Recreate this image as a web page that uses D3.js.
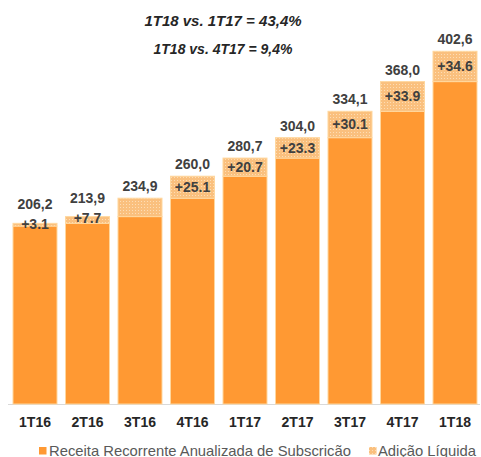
<!DOCTYPE html>
<html>
<head>
<meta charset="utf-8">
<script src="https://cdn.jsdelivr.net/npm/d3@7"></script>
<style>
html,body{margin:0;padding:0;background:#fff;}
svg{display:block;font-family:Arial,"Liberation Sans",sans-serif;}
</style>
</head>
<body>
<svg id="c" width="481" height="457"></svg>
<script>
const categories = ["1T16","2T16","3T16","4T16","1T17","2T17","3T17","4T17","1T18"];
const baseValues = [203.1,206.2,213.9,234.9,260.0,280.7,304.0,334.1,368.0];
const additions = [3.1,7.7,21.0,25.1,20.7,23.3,30.1,33.9,34.6];
const totalLabels = ["206,2","213,9","234,9","260,0","280,7","304,0","334,1","368,0","402,6"];
const additionLabels = ["+3.1","+7.7","","+25.1","+20.7","+23.3","+30.1","+33.9","+34.6"];
const titleLines = ["1T18 vs. 1T17 = 43,4%","1T18 vs. 4T17 = 9,4%"];
const legendLabels = ["Receita Recorrente Anualizada de Subscricão","Adição Líquida"];

const svg = d3.select("#c");
const defs = svg.append("defs");
const pat = defs.append("pattern").attr("id","hatch").attr("patternUnits","userSpaceOnUse")
  .attr("width",3).attr("height",3);
pat.append("rect").attr("width",3).attr("height",3).attr("fill","#FAC07E");
pat.append("rect").attr("width",1).attr("height",1).attr("fill","#FDDDB5");

const x = d3.scaleBand().domain(categories).range([8.75,481.25]).paddingInner(0.162).paddingOuter(0.081);
const y = d3.scaleLinear().domain([0,460]).range([404,1]);

const data = categories.map((c,i)=>({c, base:baseValues[i], add:additions[i], tl:totalLabels[i], al:additionLabels[i]}));
data.forEach(d=>{
  const top = y(d.base+d.add), mid = (y(d.base)+top)/2;
  const small = (y(d.base)-top) < 16 && d.al;
  d.addY = small ? top + 6 : mid + 5;
  d.totY = small ? top - 14 : top - 7;
});

// axis line
svg.append("line").attr("x1",8).attr("x2",480).attr("y1",y(0)+0.5).attr("y2",y(0)+0.5)
  .attr("stroke","#D9D9D9").attr("stroke-width",1);

const g = svg.append("g");
g.selectAll("rect.base").data(data).join("rect").attr("class","base")
  .attr("x",d=>x(d.c)).attr("width",x.bandwidth())
  .attr("y",d=>y(d.base)).attr("height",d=>y(0)-y(d.base))
  .attr("fill","#FF9933").attr("stroke","#FFD79E").attr("stroke-width",1);
g.selectAll("rect.add").data(data).join("rect").attr("class","add")
  .attr("x",d=>x(d.c)).attr("width",x.bandwidth())
  .attr("y",d=>y(d.base+d.add)).attr("height",d=>y(d.base)-y(d.base+d.add))
  .attr("fill","url(#hatch)").attr("stroke","#FFD79E").attr("stroke-width",1);

g.selectAll("text.tot").data(data).join("text").attr("class","tot")
  .attr("x",d=>x(d.c)+x.bandwidth()/2).attr("y",d=>d.totY)
  .attr("text-anchor","middle").attr("font-size",14).attr("font-weight","bold").attr("fill","#404040")
  .text(d=>d.tl);
g.selectAll("text.addl").data(data).join("text").attr("class","addl")
  .attr("x",d=>x(d.c)+x.bandwidth()/2).attr("y",d=>d.addY)
  .attr("text-anchor","middle").attr("font-size",14).attr("font-weight","bold").attr("fill","#404040")
  .text(d=>d.al);

// x axis labels
const xAxis = d3.axisBottom(x).tickSize(0).tickPadding(0);
const ax = svg.append("g").attr("transform",`translate(0,${y(0)})`).call(xAxis);
ax.select(".domain").remove();
ax.selectAll("text").attr("dy",0).attr("y",23).attr("font-size",14).attr("font-weight","bold")
  .attr("fill","#262626").attr("font-family","Arial, 'Liberation Sans', sans-serif");

// titles
svg.append("text").attr("x",223).attr("y",26).attr("text-anchor","middle").attr("font-size",15)
  .attr("font-weight","bold").attr("font-style","italic").attr("fill","#262626").text(titleLines[0]);
svg.append("text").attr("x",223).attr("y",54).attr("text-anchor","middle").attr("font-size",14)
  .attr("font-weight","bold").attr("font-style","italic").attr("fill","#262626").text(titleLines[1]);

// legend
const lg = svg.append("g");
lg.append("rect").attr("x",39).attr("y",447).attr("width",7.5).attr("height",7.5).attr("fill","#FF9933");
lg.append("text").attr("x",49).attr("y",455.5).attr("font-size",14.8).attr("fill","#595959").text(legendLabels[0]);
lg.append("rect").attr("x",369).attr("y",447).attr("width",7.5).attr("height",7.5).attr("fill","url(#hatch)");
lg.append("text").attr("x",378).attr("y",455.5).attr("font-size",14.8).attr("fill","#595959").text(legendLabels[1]);
</script>
</body>
</html>
